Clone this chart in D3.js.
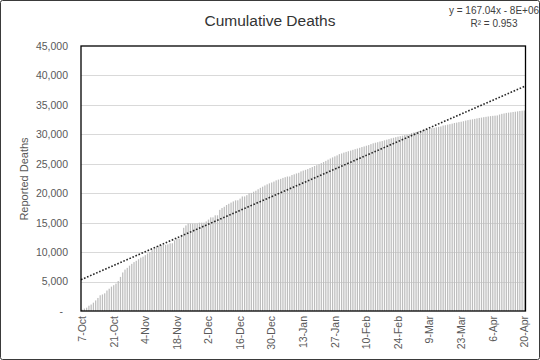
<!DOCTYPE html>
<html>
<head>
<meta charset="utf-8">
<script src="https://cdn.jsdelivr.net/npm/d3@7"></script>
<style>
html,body{margin:0;padding:0;background:#fff;}
svg{display:block;font-family:"Liberation Sans",Arial,sans-serif;}
</style>
</head>
<body>
<svg id="chart" width="540" height="360"></svg>
<script>
const startDate = "2023-10-07";
const deaths = [
// Oct 7-31
232,413,560,900,1100,1417,1799,2215,2670,2808,3000,3478,3785,4137,4385,4651,5087,5791,6546,7028,7326,7703,8005,8306,8525,
// Nov
8796,9061,9227,9488,9770,10022,10328,10569,10812,11078,11180,11240,11240,11320,11500,11500,12000,12300,12300,12700,14128,14532,14854,14854,14854,14854,14854,15000,15000,15000,
// Dec
15207,15523,15899,15899,16248,16248,17177,17487,17700,17997,18205,18412,18608,18787,18800,19088,19453,19453,19667,20000,20057,20258,20424,20674,20915,21110,21320,21507,21672,21822,21978,
// Jan
22185,22313,22438,22600,22722,22835,22835,23084,23210,23357,23469,23708,23843,23968,24100,24285,24448,24620,24762,24927,25105,25295,25490,25700,25900,26083,26257,26422,26637,26751,26900,
// Feb
27019,27131,27238,27365,27478,27585,27708,27840,27947,28064,28176,28340,28473,28576,28663,28775,28858,28985,29092,29195,29313,29410,29514,29606,29692,29782,29878,29954,30035,
// Mar
30228,30320,30410,30534,30631,30717,30800,30878,30960,31045,31112,31184,31272,31341,31490,31553,31645,31726,31819,31923,31988,32070,32142,32226,32333,32414,32490,32552,32623,32705,32782,
// Apr 1-20
32845,32916,32975,33037,33091,33137,33175,33207,33360,33482,33545,33634,33686,33729,33797,33843,33899,33970,34012,34049
];
const xTickLabels = ["7-Oct","21-Oct","4-Nov","18-Nov","2-Dec","16-Dec","30-Dec","13-Jan","27-Jan","10-Feb","24-Feb","9-Mar","23-Mar","6-Apr","20-Apr"];
const yTicks = [0,5000,10000,15000,20000,25000,30000,35000,40000,45000];
const titleText = "Cumulative Deaths";
const yTitle = "Reported Deaths";
const eqText = ["y = 167.04x - 8E+06", "R² = 0.953"];

const svg = d3.select("#chart");
const W = 540, H = 360;
const plot = {l: 81, r: 525.5, t: 46, b: 311};

const t0 = d3.timeParse("%Y-%m-%d")(startDate);
const data = deaths.map((v,i) => ({date: d3.timeDay.offset(t0, i), i, v}));

const pi = 0.45;
const x = d3.scaleBand().domain(data.map(d => d.i)).range([plot.l, plot.r]).paddingInner(pi).paddingOuter(pi/2);
const step = x.step();
const xPos = t => plot.l + step * (t + 0.5);
const y = d3.scaleLinear().domain([0,45000]).range([plot.b, plot.t]);

// outer border
svg.append("rect").attr("x",0.5).attr("y",0.5).attr("width",W-1).attr("height",H-1)
  .attr("rx",2).attr("fill","#fff").attr("stroke","#3a3a3a").attr("stroke-width",1);

// gridlines
svg.append("g").selectAll("line").data(yTicks.filter(d => d>0 && d<45000)).join("line")
  .attr("x1",plot.l).attr("x2",plot.r).attr("y1",d=>Math.round(y(d))+0.5).attr("y2",d=>Math.round(y(d))+0.5)
  .attr("stroke","#d9d9d9").attr("stroke-width",1);

// bars
svg.append("g").selectAll("rect").data(data).join("rect")
  .attr("x", d => x(d.i)).attr("width", x.bandwidth())
  .attr("y", d => y(d.v)).attr("height", d => y(0) - y(d.v))
  .attr("fill", "#bdbdbd");

// trendline (least squares on day index)
const n = data.length;
const mx = d3.mean(data, d => d.i), my = d3.mean(data, d => d.v);
const sxy = d3.sum(data, d => (d.i-mx)*(d.v-my)), sxx = d3.sum(data, d => (d.i-mx)**2);
const slope = sxy/sxx, icpt = my - slope*mx;
const ends = [-0.5, n-0.5];
svg.append("line")
  .attr("x1", xPos(ends[0])).attr("y1", y(icpt + slope*ends[0]))
  .attr("x2", xPos(ends[1])).attr("y2", y(icpt + slope*ends[1]))
  .attr("stroke","#262626").attr("stroke-width",1.6).attr("stroke-dasharray","1.6 1.7");

// plot border
svg.append("rect").attr("x",plot.l).attr("y",plot.t).attr("width",plot.r-plot.l).attr("height",plot.b-plot.t)
  .attr("fill","none").attr("stroke","#000").attr("stroke-width",1.3);

// y axis
const yAxis = d3.axisLeft(y).tickValues(yTicks).tickSize(0).tickPadding(13)
  .tickFormat(d => d === 0 ? "-" : d3.format(",")(d));
const gy = svg.append("g").attr("transform",`translate(${plot.l},0)`).call(yAxis);
gy.select(".domain").remove();
gy.selectAll("text").attr("font-size",10.5).attr("fill","#595959")
  .attr("font-family","'Liberation Sans',Arial,sans-serif")
  .attr("dx", d => d === 0 ? -5 : 0);

// x axis
const tickIdx = xTickLabels.map((_,k) => k*14);
const gx = svg.append("g");
gx.selectAll("text").data(tickIdx).join("text")
  .attr("transform", (d) => `translate(${xPos(d)+3.8},${plot.b+5}) rotate(-90)`)
  .attr("text-anchor","end")
  .attr("font-size",10.5).attr("fill","#595959")
  .text((d,k) => xTickLabels[k]);

// titles
svg.append("text").attr("x",270).attr("y",26).attr("text-anchor","middle")
  .attr("font-size",15.5).attr("fill","#333").text(titleText);
svg.append("text").attr("transform","translate(28,179) rotate(-90)").attr("text-anchor","middle")
  .attr("font-size",11).attr("fill","#595959").text(yTitle);
svg.append("text").attr("x",494).attr("y",14).attr("text-anchor","middle")
  .attr("font-size",10).attr("fill","#404040").text(eqText[0]);
svg.append("text").attr("x",494).attr("y",27).attr("text-anchor","middle")
  .attr("font-size",10).attr("fill","#404040").text(eqText[1]);
</script>
</body>
</html>
